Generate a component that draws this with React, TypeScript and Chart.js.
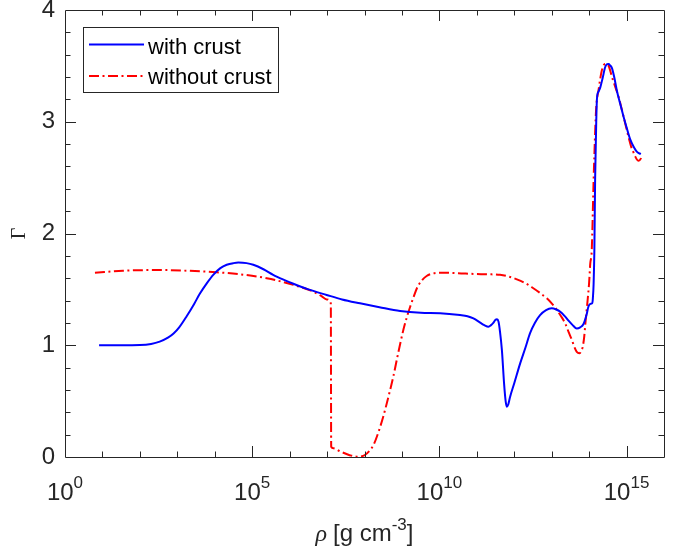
import React, { useEffect, useRef } from 'react';
import { Chart, registerables } from 'chart.js';

Chart.register(...registerables);

// log10(rho) and Gamma
const withCrustLogRho = [
  0.91, 1.5, 2.0, 2.3, 2.53, 2.75, 2.9, 3.05, 3.25, 3.45, 3.6, 3.8, 3.96, 4.15, 4.32, 4.5, 4.63, 4.85, 5.03,
  5.3, 5.56, 5.85, 6.1, 6.5, 6.99, 7.4, 7.88, 8.4, 8.95, 9.5, 10.02, 10.55, 10.75, 10.91, 11.1, 11.2, 11.31,
  11.38, 11.44, 11.5, 11.54, 11.58, 11.62, 11.67, 11.73, 11.77, 11.8, 11.84, 11.89, 12.0, 12.16, 12.3, 12.42,
  12.55, 12.69, 12.85, 13.0, 13.12, 13.23, 13.35, 13.45, 13.56, 13.67, 13.76, 13.85, 13.93, 13.98, 14.03,
  14.08, 14.1, 14.12, 14.14, 14.16, 14.19, 14.21, 14.25, 14.3, 14.36, 14.43, 14.48, 14.52, 14.56, 14.61,
  14.67, 14.74, 14.83, 14.92, 15.0, 15.1, 15.2, 15.28, 15.38,
];
const withCrustGamma = [
  1.0, 1.0, 1.002, 1.012, 1.033, 1.068, 1.105, 1.16, 1.26, 1.37, 1.46, 1.56, 1.63, 1.69, 1.72, 1.735, 1.74, 1.735,
  1.72, 1.68, 1.63, 1.585, 1.55, 1.5, 1.45, 1.41, 1.375, 1.34, 1.306, 1.29, 1.286, 1.27, 1.26, 1.24, 1.2, 1.18,
  1.166, 1.18, 1.2, 1.228, 1.232, 1.21, 1.12, 0.957, 0.65, 0.5, 0.45, 0.47, 0.54, 0.66, 0.84, 0.98, 1.107,
  1.2, 1.27, 1.315, 1.33, 1.32, 1.3, 1.26, 1.22, 1.18, 1.15, 1.16, 1.19, 1.27, 1.345, 1.37, 1.375, 1.42,
  1.55, 1.85, 2.48, 3.0, 3.21, 3.27, 3.31, 3.39, 3.49, 3.515, 3.517, 3.505, 3.48, 3.4, 3.28, 3.16, 3.045,
  2.95, 2.84, 2.77, 2.73, 2.71,
];

const withoutCrustLogRho = [
  0.8, 1.55, 2.53, 3.25, 4.05, 4.67, 5.39, 6.1, 6.63, 6.85, 6.99, 7.1, 7.11, 7.17, 7.35, 7.52, 7.65, 7.79,
  7.9, 8.01, 8.12, 8.24, 8.37, 8.5, 8.64, 8.77, 8.9, 9.04, 9.13, 9.22, 9.31, 9.4, 9.53, 9.66, 9.84, 10.02,
  10.5, 10.91, 11.3, 11.62, 11.85, 12.07, 12.3, 12.51, 12.7, 12.87, 13.0, 13.14, 13.25, 13.36, 13.45, 13.54,
  13.61, 13.67, 13.74, 13.79, 13.83, 13.87, 13.9, 13.96, 14.0, 14.03, 14.07, 14.12, 14.16, 14.19, 14.25,
  14.34, 14.43, 14.52, 14.61, 14.7, 14.79, 14.88, 14.96, 15.04, 15.12, 15.18, 15.23, 15.32, 15.38, 15.41,
];
const withoutCrustGamma = [
  1.649, 1.667, 1.673, 1.667, 1.653, 1.635, 1.6, 1.54, 1.48, 1.44, 1.41, 1.375, 0.092, 0.078, 0.05, 0.027,
  0.012, 0.003, 0.005, 0.018, 0.05, 0.107, 0.22, 0.36, 0.54, 0.72, 0.93, 1.14, 1.25, 1.345, 1.43, 1.51, 1.58,
  1.62, 1.643, 1.649, 1.645, 1.638, 1.635, 1.63, 1.615, 1.59, 1.555, 1.51, 1.465, 1.42, 1.375, 1.315, 1.26,
  1.196, 1.12, 1.047, 0.98, 0.94, 0.928, 0.95, 0.987, 1.08, 1.196, 1.405, 1.56, 1.73, 1.85, 2.48, 2.9, 3.13,
  3.28, 3.46, 3.517, 3.5, 3.4, 3.31, 3.22, 3.1, 2.99, 2.88, 2.78, 2.73, 2.69, 2.65, 2.67, 2.7,
];

const seriesLabels = ['with crust', 'without crust'];
const xMajorExponents = [0, 5, 10, 15];
const xMinExponent = 0;
const xMaxExponent = 16;
const yMin = 0;
const yMax = 4;
const xTitleMain = '[g cm';
const xTitleSymbol = 'ρ';
const xTitleSup = '-3';
const xTitleEnd = ']';
const yTitle = 'Γ';

const INK = '#262626';
const SANS = '"Liberation Sans", Arial, Helvetica, sans-serif';

const toPoints = (logs: number[], vals: number[]) => logs.map((l, i) => ({ x: Math.pow(10, l), y: vals[i] }));

const matlabPlugin = {
  id: 'matlabAxes',
  afterDatasetsDraw(chart: any) {
    const ctx = chart.ctx as CanvasRenderingContext2D;
    const { left, right, top, bottom } = chart.chartArea;
    const xs = chart.scales.x;
    const ys = chart.scales.y;
    ctx.save();
    ctx.strokeStyle = INK;
    ctx.lineWidth = 1;
    ctx.setLineDash([]);
    // box
    ctx.beginPath();
    ctx.rect(Math.round(left) + 0.5, Math.round(top) + 0.5, Math.round(right - left), Math.round(bottom - top));
    ctx.stroke();
    // x ticks each decade
    ctx.beginPath();
    for (let e = xMinExponent + 1; e < xMaxExponent; e++) {
      const px = Math.round(xs.getPixelForValue(Math.pow(10, e))) + 0.5;
      const len = xMajorExponents.includes(e) ? 11 : 5.5;
      ctx.moveTo(px, bottom);
      ctx.lineTo(px, bottom - len);
      ctx.moveTo(px, top);
      ctx.lineTo(px, top + len);
    }
    // y ticks each 0.2
    for (let k = 1; k < (yMax - yMin) * 5; k++) {
      const v = yMin + k * 0.2;
      const py = Math.round(ys.getPixelForValue(v)) + 0.5;
      const len = k % 5 === 0 ? 11 : 5.5;
      ctx.moveTo(left, py);
      ctx.lineTo(left + len, py);
      ctx.moveTo(right, py);
      ctx.lineTo(right - len, py);
    }
    ctx.stroke();

    // x tick labels 10^n
    ctx.fillStyle = INK;
    ctx.textBaseline = 'alphabetic';
    ctx.textAlign = 'left';
    const baseFont = `24px ${SANS}`;
    const supFont = `17px ${SANS}`;
    for (const e of xMajorExponents) {
      const px = xs.getPixelForValue(Math.pow(10, e));
      ctx.font = baseFont;
      const wb = ctx.measureText('10').width;
      ctx.font = supFont;
      const ws = ctx.measureText(String(e)).width;
      const x0 = px - (wb + ws) / 2;
      ctx.font = baseFont;
      ctx.fillText('10', x0, 500);
      ctx.font = supFont;
      ctx.fillText(String(e), x0 + wb, 488);
    }

    // x title
    const tBase = 541;
    const symFont = `italic 24px "Liberation Serif", "Times New Roman", serif`;
    ctx.font = symFont;
    const wSym = ctx.measureText(xTitleSymbol + ' ').width;
    ctx.font = baseFont;
    const wMain = ctx.measureText(xTitleMain).width;
    const wEnd = ctx.measureText(xTitleEnd).width;
    ctx.font = supFont;
    const wSup = ctx.measureText(xTitleSup).width;
    let tx = (left + right) / 2 - (wSym + wMain + wSup + wEnd) / 2;
    ctx.font = symFont;
    ctx.fillText(xTitleSymbol, tx, tBase);
    tx += wSym;
    ctx.font = baseFont;
    ctx.fillText(xTitleMain, tx, tBase);
    tx += wMain;
    ctx.font = supFont;
    ctx.fillText(xTitleSup, tx, tBase - 11);
    tx += wSup;
    ctx.font = baseFont;
    ctx.fillText(xTitleEnd, tx, tBase);

    // legend
    const bx = 83.5, by = 27.5, bw = 195, bh = 65;
    ctx.fillStyle = '#ffffff';
    ctx.fillRect(bx, by, bw, bh);
    ctx.strokeStyle = INK;
    ctx.lineWidth = 1;
    ctx.strokeRect(bx, by, bw, bh);
    const rows = [44.5, 76];
    const baselines = [54, 84];
    chart.data.datasets.forEach((ds: any, i: number) => {
      ctx.strokeStyle = ds.borderColor;
      ctx.lineWidth = ds.borderWidth;
      ctx.setLineDash(ds.borderDash || []);
      ctx.lineCap = 'butt';
      ctx.beginPath();
      ctx.moveTo(89, rows[i]);
      ctx.lineTo(144, rows[i]);
      ctx.stroke();
      ctx.setLineDash([]);
      ctx.fillStyle = '#000000';
      ctx.font = `22px ${SANS}`;
      ctx.fillText(ds.label, 148, baselines[i]);
    });
    ctx.restore();
  },
};

export default function App() {
  const canvasRef = useRef<HTMLCanvasElement | null>(null);

  useEffect(() => {
    const canvas = canvasRef.current;
    if (!canvas) return;
    const chart = new Chart(canvas, {
      type: 'line',
      data: {
        datasets: [
          {
            label: seriesLabels[0],
            data: toPoints(withCrustLogRho, withCrustGamma),
            borderColor: '#0000ff',
            backgroundColor: '#0000ff',
            borderWidth: 2,
            pointRadius: 0,
            cubicInterpolationMode: 'monotone',
            fill: false,
          },
          {
            label: seriesLabels[1],
            data: toPoints(withoutCrustLogRho, withoutCrustGamma),
            borderColor: '#ff0000',
            backgroundColor: '#ff0000',
            borderWidth: 2,
            borderDash: [10, 3.5, 2, 3.5],
            pointRadius: 0,
            cubicInterpolationMode: 'monotone',
            fill: false,
          },
        ],
      },
      options: {
        responsive: false,
        animation: false,
        parsing: false,
        normalized: true,
        layout: { padding: { top: 10, right: 23, left: 0, bottom: 0 } },
        plugins: {
          legend: { display: false },
          tooltip: { enabled: false },
        },
        scales: {
          x: {
            type: 'logarithmic',
            position: 'bottom',
            min: Math.pow(10, xMinExponent),
            max: Math.pow(10, xMaxExponent),
            grid: { display: false, drawTicks: false },
            border: { display: false },
            ticks: { display: false },
            afterFit: (s: any) => {
              s.height = 98;
              s.paddingLeft = 0;
              s.paddingRight = 0;
            },
          },
          y: {
            type: 'linear',
            position: 'left',
            min: yMin,
            max: yMax,
            grid: { display: false, drawTicks: false },
            border: { display: false },
            ticks: {
              stepSize: 1,
              color: INK,
              padding: 10,
              font: { family: SANS, size: 24 },
            },
            title: {
              display: true,
              text: yTitle,
              color: INK,
              font: { family: '"Liberation Serif", "Times New Roman", serif', size: 20 },
              padding: { top: 8, bottom: 0 },
            },
            afterFit: (s: any) => {
              s.width = 65;
              s.paddingTop = 0;
              s.paddingBottom = 0;
            },
          },
        },
      },
      plugins: [matlabPlugin],
    } as any);
    return () => chart.destroy();
  }, []);

  return (
    <div style={{ position: 'absolute', left: 0, top: 0, width: 687, height: 555, background: '#ffffff' }}>
      <canvas ref={canvasRef} width={687} height={555} style={{ display: 'block' }} />
    </div>
  );
}
